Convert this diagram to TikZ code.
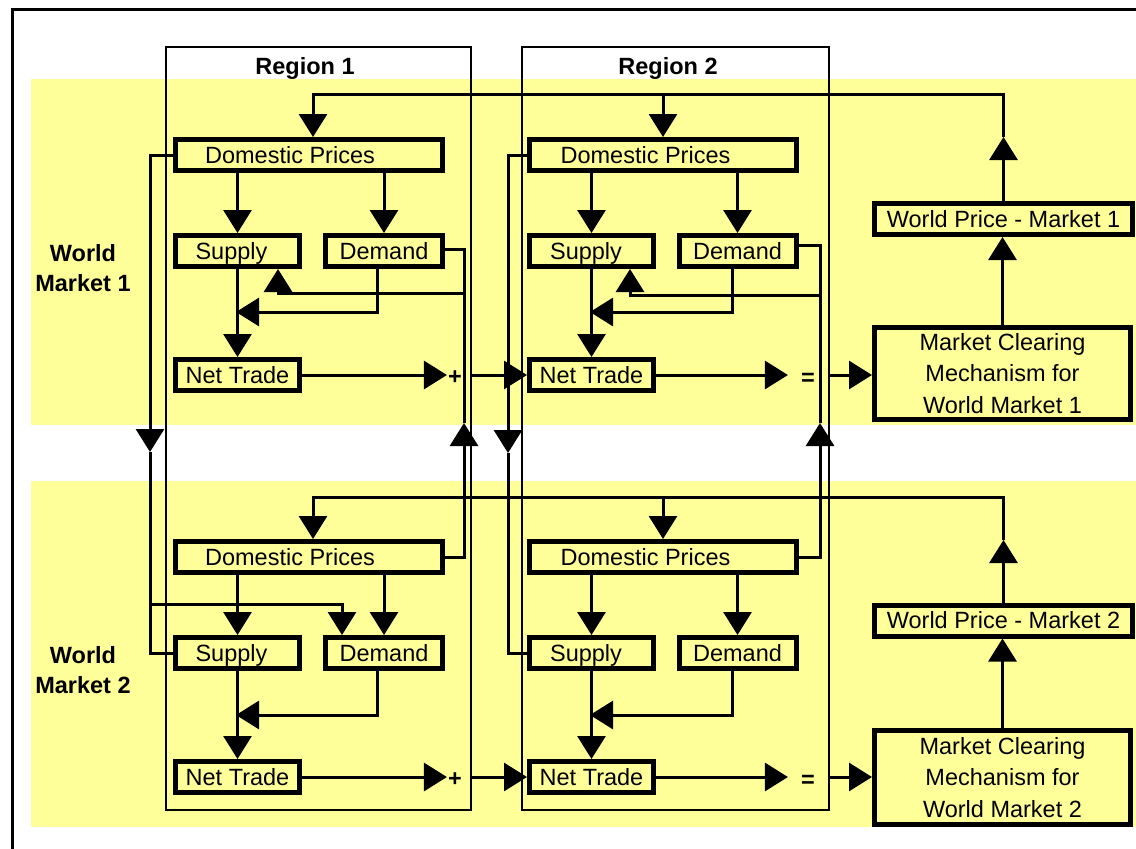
\documentclass[tikz,border=0pt]{standalone}
\usepackage{fontspec}
\setmainfont{Liberation Sans}
\usetikzlibrary{arrows.meta}
\definecolor{band}{RGB}{255,255,153}
\begin{document}
\begin{tikzpicture}[x=1pt,y=-1pt,
  ln/.style={line width=3pt},
  arr/.style={line width=3pt,-{Triangle[length=23pt,width=28pt]}},
  bx/.style={draw,line width=5pt,fill=band,inner sep=0pt,font=\fontsize{23.5}{31.5}\selectfont},
  one/.style={bx,text height=16.8pt,text depth=0pt,minimum height=31pt},
  dps/.style={one,minimum width=267pt},
  sps/.style={one,minimum width=124pt},
  dms/.style={one,minimum width=117pt},
  wps/.style={one,minimum width=258pt},
  mcs/.style={bx,minimum width=256pt,align=center},
  reg/.style={draw,line width=1.5pt,inner sep=0pt,minimum height=763pt},
  lab/.style={font=\bfseries\fontsize{23.5}{28}\selectfont,inner sep=0pt,anchor=base},
  op/.style={font=\bfseries\fontsize{23.5}{28}\selectfont,inner sep=0pt,inner xsep=1pt}]
\useasboundingbox (0,0) rectangle (1136,849);
% bands and frame
\fill[band] (31,79) rectangle (1136,425);
\fill[band] (31,481) rectangle (1136,827);
\draw[line width=3pt] (12.5,9.5) rectangle (1160,870);
% region boxes
\node[reg,minimum width=305pt] (reg1) at (318.5,428.5) {};
\node[reg,minimum width=307pt] (reg2) at (675.5,428.5) {};
% labels
\node[lab] (lr1) at (305,74) {Region 1};
\node[lab] (lr2) at (668,74) {Region 2};
\node[lab] (lw1) at (83,261) {World};
\node[lab] (lm1) at (83,291) {Market 1};
\node[lab] (lw2) at (83,663) {World};
\node[lab] (lm2) at (83,693) {Market 2};
% boxes market 1
\node[dps] (dpa1) at (309,155) {Domestic Prices\rule{38pt}{0pt}};
\node[sps] (spa1) at (237.5,251) {Supply\rule{12pt}{0pt}};
\node[dms] (dma1) at (384,251) {Demand};
\node[sps] (nta1) at (237.5,375) {Net Trade};
\node[dps] (dpb1) at (663,155) {Domestic Prices\rule{35pt}{0pt}};
\node[sps] (spb1) at (591.5,251) {Supply\rule{11pt}{0pt}};
\node[dms] (dmb1) at (737.5,251) {Demand};
\node[sps] (ntb1) at (591.5,375) {Net Trade};
\node[wps] (wp1) at (1003.5,219) {World Price - Market 1};
\node[mcs,minimum height=92pt] (mc1) at (1002.5,373.5) {Market Clearing\\Mechanism for\\World Market 1};
% boxes market 2
\node[dps] (dpa2) at (309,557) {Domestic Prices\rule{38pt}{0pt}};
\node[sps] (spa2) at (237.5,653) {Supply\rule{12pt}{0pt}};
\node[dms] (dma2) at (384,653) {Demand};
\node[sps] (nta2) at (237.5,777) {Net Trade};
\node[dps] (dpb2) at (663,557) {Domestic Prices\rule{35pt}{0pt}};
\node[sps] (spb2) at (591.5,653) {Supply\rule{11pt}{0pt}};
\node[dms] (dmb2) at (737.5,653) {Demand};
\node[sps] (ntb2) at (591.5,777) {Net Trade};
\node[wps] (wp2) at (1003.5,620.5) {World Price - Market 2};
\node[mcs,minimum height=94pt] (mc2) at (1002.5,777.5) {Market Clearing\\Mechanism for\\World Market 2};
% operators
\node[op] (pa1) at (455,378) {+};
\node[op] (eb1) at (808,379) {=};
\node[op] (pa2) at (455,780) {+};
\node[op] (eb2) at (808,781) {=};
% ---- market 1 top feed
\coordinate (wt1) at (1003.5,137);
\coordinate (h1) at (313,94);
\draw[arr] (wp1.north) -- (wt1);
\draw[arr] (wt1) |- (h1) -- (h1 |- dpa1.north);
\draw[arr] (dpb1.north |- h1) -- (dpb1.north);
\draw[arr] (mc1.north) -- (mc1.north |- wp1.south);
% ---- market 2 top feed
\coordinate (wt2) at (1003.5,540);
\coordinate (h2) at (313,497);
\draw[arr] (wp2.north) -- (wt2);
\draw[arr] (wt2) |- (h2) -- (h2 |- dpa2.north);
\draw[arr] (dpb2.north |- h2) -- (dpb2.north);
\draw[arr] (mc2.north) -- (mc2.north |- wp2.south);
% ---- region 1 market 1
\draw[arr] (spa1.north |- dpa1.south) -- (spa1.north);
\draw[arr] (dma1.north |- dpa1.south) -- (dma1.north);
\draw[arr] (spa1.south) -- (nta1.north);
\coordinate (ja1) at (236,312);
\draw[arr] ([xshift=-7pt]dma1.south) |- (ja1);
\coordinate (ua1) at (464,423);
\coordinate (ka1) at (278,293);
\draw[arr] (dpa2.east) -| (ua1);
\draw[arr] (ua1) |- (ka1) -- (ka1 |- spa1.south);
\draw[ln] ([yshift=2pt]dma1.east) -| (ua1 |- ka1);
\coordinate (da) at (150,452);
\draw[arr] (dpa1.west) -| (da);
\draw[ln] (da) |- (spa2.west);
\coordinate (ca) at (342,604);
\draw[arr] (da |- ca) -- (ca) -- (ca |- dma2.north);
% ---- region 2 market 1
\draw[arr] (spb1.north |- dpb1.south) -- (spb1.north);
\draw[arr] (dmb1.north |- dpb1.south) -- (dmb1.north);
\draw[arr] (spb1.south) -- (ntb1.north);
\coordinate (jb1) at (590,312);
\draw[arr] ([xshift=-5pt]dmb1.south) |- (jb1);
\coordinate (ub1) at (820,423);
\coordinate (kb1) at (630,295);
\draw[arr] (dpb2.east) -| (ub1);
\draw[arr] (ub1) |- (kb1) -- (kb1 |- spb1.south);
\draw[ln] ([yshift=6pt]dmb1.east) -| (ub1 |- kb1);
\coordinate (db) at (508,453);
\draw[arr] (dpb1.west) -| (db);
\draw[ln] (db) |- (spb2.west);
% ---- region 1 market 2
\draw[arr] (spa2.north |- dpa2.south) -- (spa2.north);
\draw[arr] (dma2.north |- dpa2.south) -- (dma2.north);
\draw[arr] (spa2.south) -- (nta2.north);
\coordinate (ja2) at (236,715);
\draw[arr] ([xshift=-7pt]dma2.south) |- (ja2);
% ---- region 2 market 2
\draw[arr] (spb2.north |- dpb2.south) -- (spb2.north);
\draw[arr] (dmb2.north |- dpb2.south) -- (dmb2.north);
\draw[arr] (spb2.south) -- (ntb2.north);
\coordinate (jb2) at (590,715);
\draw[arr] ([xshift=-5pt]dmb2.south) |- (jb2);
% ---- net trade flows
\draw[arr] (nta1.east) -- (nta1.east -| pa1.west);
\draw[arr] (nta1.east -| reg1.east) -- (ntb1.west);
\draw[arr,shorten >=12pt] (ntb1.east) -- (ntb1.east -| eb1.west);
\draw[arr] (ntb1.east -| reg2.east) -- (ntb1.east -| mc1.west);
\draw[arr] (nta2.east) -- (nta2.east -| pa2.west);
\draw[arr] (nta2.east -| reg1.east) -- (ntb2.west);
\draw[arr,shorten >=12pt] (ntb2.east) -- (ntb2.east -| eb2.west);
\draw[arr] (ntb2.east -| reg2.east) -- (ntb2.east -| mc2.west);
\end{tikzpicture}
\end{document}
